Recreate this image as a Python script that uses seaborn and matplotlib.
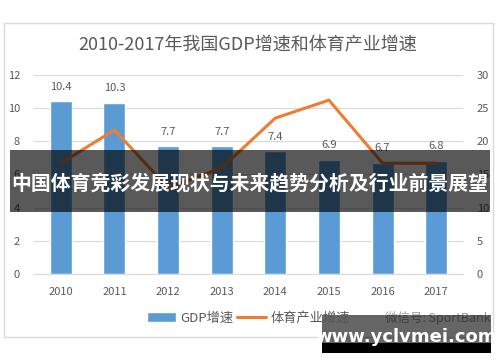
import numpy as np
import pandas as pd
import matplotlib
matplotlib.use("Agg")
import matplotlib.pyplot as plt
import seaborn as sns
from matplotlib.patches import Rectangle
from matplotlib.lines import Line2D
from matplotlib.patches import Patch

years = ["2010", "2011", "2012", "2013", "2014", "2015", "2016", "2017"]
gdp_growth = [10.4, 10.3, 7.7, 7.7, 7.4, 6.9, 6.7, 6.8]
sport_growth = [16.7, 21.7, 13.0, 16.0, 23.5, 26.2, 16.7, 16.7]

sns.set_style("white")
plt.rcParams['font.family'] = ['Noto Sans CJK SC', 'DejaVu Sans']

blue = "#5B9BD5"
orange = "#ED7D31"
grey_txt = "#595959"

df = pd.DataFrame({"year": years, "gdp": gdp_growth, "sport": sport_growth})
df["pos"] = np.arange(len(years))

fig = plt.figure(figsize=(5, 3.62), dpi=100)
fig.patches.append(Rectangle((4 / 500, 1 - 337 / 362), 489 / 500, 314 / 362,
                             transform=fig.transFigure, fill=False,
                             edgecolor="#D9D9D9", linewidth=1, zorder=0))

ax = fig.add_axes([0.068, 0.243, 0.858, 0.55])
sns.barplot(data=df, x="year", y="gdp", color=blue, width=0.41,
            saturation=1, ax=ax, zorder=2)
ax.set_ylim(0, 12)
ax.set_yticks(range(0, 13, 2))
ax.set_xlim(-0.5, 7.5)
ax.yaxis.grid(True, color="#D9D9D9", linewidth=0.8, zorder=0)
ax.set_axisbelow(True)
for s in ["top", "right", "left"]:
    ax.spines[s].set_visible(False)
ax.spines["bottom"].set_color("#D9D9D9")
ax.set_xlabel("")
ax.set_ylabel("")
ax.tick_params(axis="both", length=0, labelsize=8, colors=grey_txt)
ax.tick_params(axis="x", pad=9)
ax.tick_params(axis="y", pad=10)
ax.bar_label(ax.containers[0], fmt="%.1f", padding=7, fontsize=8, color=grey_txt)

ax2 = ax.twinx()
sns.lineplot(data=df, x="pos", y="sport", color=orange, linewidth=2.2, ax=ax2)
ax2.set_ylim(0, 30)
ax2.set_yticks(range(0, 31, 5))
for s in ax2.spines.values():
    s.set_visible(False)
ax2.set_ylabel("")
ax2.tick_params(axis="y", length=0, labelsize=8, colors=grey_txt, pad=10)
ax2.set_xlim(-0.5, 7.5)

fig.text(0.496, 1 - 45 / 362, "2010-2017年我国GDP增速和体育产业增速",
         ha="center", va="center", fontsize=13, color=grey_txt)

handles = [Patch(facecolor=blue, label="GDP增速"),
           Line2D([0], [0], color=orange, linewidth=2.2, label="体育产业增速")]
fig.legend(handles=handles, loc="center", bbox_to_anchor=(0.497, 1 - 318 / 362),
           ncol=2, frameon=False, fontsize=9.5, labelcolor=grey_txt,
           handlelength=2.2, handletextpad=0.3, columnspacing=0.3)
fig.text(0.77, 1 - 318 / 362, "微信号: SportBank", ha="left", va="center",
         fontsize=9, color="#9a9a9a")

# overlay banner
fig.patches.append(Rectangle((10 / 500, 1 - 212 / 362), 480 / 500, 62 / 362,
                             transform=fig.transFigure, facecolor="black",
                             alpha=0.65, edgecolor="none", zorder=5))
fig.text(0.5, 1 - 183 / 362, "中国体育竞彩发展现状与未来趋势分析及行业前景展望",
         ha="center", va="center", fontsize=14.3, color="white",
         fontweight="bold", zorder=6)

# watermark
fig.patches.append(Rectangle((322 / 500, 1 - 343 / 362), 169 / 500, 28 / 362,
                             transform=fig.transFigure, facecolor="black",
                             alpha=0.6, edgecolor="none", zorder=5))
fig.patches.append(Rectangle((322 / 500, 1 - 353 / 362), 169 / 500, 10 / 362,
                             transform=fig.transFigure, facecolor="black",
                             edgecolor="none", zorder=5))
fig.text(406 / 500, 1 - 337 / 362, "www.yclvmei.com", ha="center", va="center",
         fontsize=13, color="white", fontweight="bold", zorder=6,
         family=["DejaVu Sans"])

fig.savefig("out.png", dpi=100)
